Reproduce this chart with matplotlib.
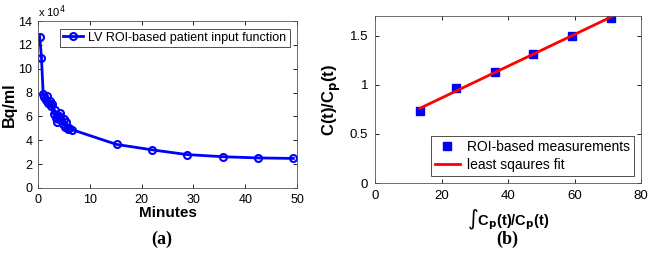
import matplotlib
matplotlib.use("Agg")
import matplotlib.pyplot as plt
import numpy as np

plt.rcParams['font.family'] = ['Liberation Sans', 'DejaVu Sans']

# Panel (a): LV ROI-based input function
minutes = [0.33, 0.67, 1.0, 1.25, 1.5, 1.75, 2.0, 2.25, 2.5, 2.75, 3.0, 3.25, 3.5, 3.75,
           4.0, 4.25, 4.5, 4.75, 5.0, 5.25, 5.5, 5.75, 6.0, 6.5,
           15.2, 22.0, 28.8, 35.8, 42.5, 49.3]
bq_ml_1e4 = [12.7, 10.9, 7.9, 7.6, 7.4, 7.75, 7.1, 7.3, 6.9, 7.05, 6.2, 6.5, 5.9, 5.5,
             6.0, 6.25, 5.7, 5.4, 5.8, 5.1, 5.5, 4.95, 5.0, 4.9,
             3.65, 3.2, 2.8, 2.62, 2.52, 2.48]

# Panel (b): Patlak-style plot
patlak_x = [13.5, 24.5, 36.0, 47.5, 59.3, 71.0]
patlak_y = [0.73, 0.97, 1.13, 1.31, 1.50, 1.68]
fit_slope = 0.01617
fit_intercept = 0.542

W, H = 654, 257
fig = plt.figure(figsize=(W/100, H/100), dpi=100)

def ax_rect(l, r, t, b):
    return [l/W, 1 - b/H, (r-l)/W, (b-t)/H]

ax1 = fig.add_axes(ax_rect(38, 297, 21, 188))
ax1.plot(minutes, bq_ml_1e4, '-o', color='#0000ff', lw=2, ms=5, mfc='none', mew=1.5,
         label='LV ROI-based patient input function')
ax1.set_xlim(0, 50)
ax1.set_ylim(0, 14)
ax1.set_xticks(range(0, 51, 10))
ax1.set_yticks(range(0, 15, 2))
ax1.tick_params(direction='in', top=True, right=True, labelsize=9, length=3, pad=4, width=0.6)
ax1.set_xlabel('Minutes', fontsize=11, fontweight='bold', labelpad=0)
ax1.set_ylabel('Bq/ml', fontsize=11.5, fontweight='bold', labelpad=1)
ax1.text(0.0, 1.005, r'x 10$^4$', transform=ax1.transAxes, fontsize=8, ha='left', va='bottom')
leg1 = ax1.legend(loc='upper right', fontsize=9, frameon=True, fancybox=False,
                  edgecolor='black', handlelength=1.6, borderpad=0.25, borderaxespad=0.6,
                  handletextpad=0.4)
leg1.get_frame().set_linewidth(0.6)
for s in ax1.spines.values():
    s.set_linewidth(0.6)
    s.set_color('#555555')

ax2 = fig.add_axes(ax_rect(375, 641, 16, 183))
ax2.plot(patlak_x, patlak_y, 's', color='#0000ff', ms=6, label='ROI-based measurements')
xf = np.array([patlak_x[0], patlak_x[-1]])
ax2.plot(xf, fit_slope*xf + fit_intercept, '-', color='#ff0000', lw=2, label='least sqaures fit')
ax2.set_xlim(0, 80)
ax2.set_ylim(0, 1.7)
ax2.set_xticks(range(0, 81, 20))
ax2.set_yticks([0, 0.5, 1, 1.5])
ax2.set_yticklabels(['0', '0.5', '1', '1.5'])
ax2.tick_params(direction='in', top=True, right=True, labelsize=9.5, length=3, pad=5, width=0.6)
ax2.set_xlabel(r'$\int$C$_\mathbf{p}$(t)/C$_\mathbf{p}$(t)', fontsize=10.5, fontweight='bold', labelpad=4)
ax2.set_ylabel(r'C(t)/C$_\mathbf{p}$(t)', fontsize=12, fontweight='bold', labelpad=5)
leg2 = ax2.legend(loc='lower right', fontsize=10, frameon=True, fancybox=False,
                  edgecolor='black', handlelength=1.8, borderpad=0.3, borderaxespad=0.5,
                  labelspacing=0.3, handletextpad=0.5)
leg2.get_frame().set_linewidth(0.6)
for s in ax2.spines.values():
    s.set_linewidth(0.6)
    s.set_color('#555555')

fig.text(162/W, 1 - 239/H, '(a)', fontsize=13, fontweight='bold', family='Liberation Serif',
         ha='center', va='center')
fig.text(507/W, 1 - 239/H, '(b)', fontsize=13, fontweight='bold', family='Liberation Serif',
         ha='center', va='center')

fig.savefig('out.png', dpi=100)
